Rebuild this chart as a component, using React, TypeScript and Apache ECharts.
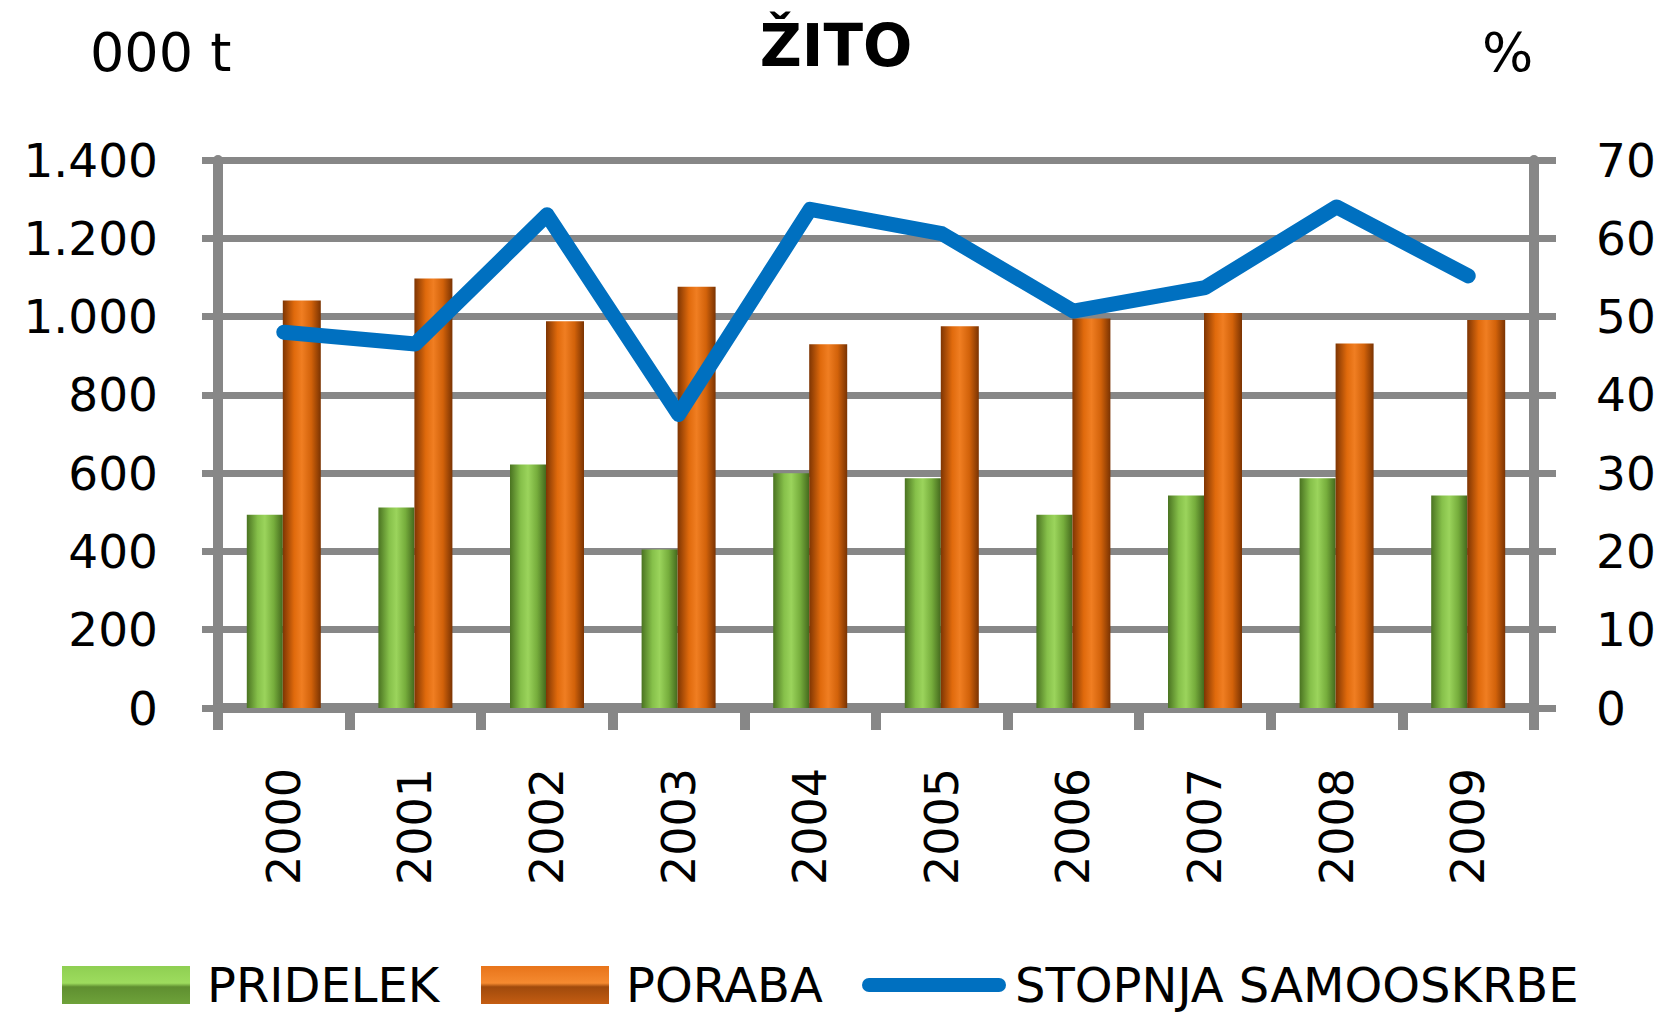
import React, { useEffect, useRef } from "react";
import * as echarts from "echarts";

const years = ["2000", "2001", "2002", "2003", "2004", "2005", "2006", "2007", "2008", "2009"];
const pridelek = [494, 512, 622, 405, 600, 587, 494, 543, 587, 543];
const poraba = [1041, 1097, 988, 1076, 929, 975, 995, 1009, 931, 991];
const samooskrba = [48.0, 46.5, 63.0, 37.5, 63.7, 60.6, 50.7, 53.7, 64.0, 55.2];

const FONT = "'DejaVu Sans', sans-serif";
const GRAY = "#878787";

function fmt(v: number): string {
  if (v >= 1000) {
    return Math.floor(v / 1000) + "." + String(v % 1000).padStart(3, "0");
  }
  return String(v);
}

const greenGrad = new echarts.graphic.LinearGradient(0, 0, 1, 0, [
  { offset: 0, color: "#4a7321" },
  { offset: 0.3, color: "#86c04a" },
  { offset: 0.5, color: "#9bd45c" },
  { offset: 0.75, color: "#76ad3c" },
  { offset: 1, color: "#44691d" },
]);
const orangeGrad = new echarts.graphic.LinearGradient(0, 0, 1, 0, [
  { offset: 0, color: "#7e3503" },
  { offset: 0.3, color: "#e06a0c" },
  { offset: 0.5, color: "#f07e22" },
  { offset: 0.75, color: "#d2620a" },
  { offset: 1, color: "#7a3302" },
]);
const greenLegend = new echarts.graphic.LinearGradient(0, 0, 0, 1, [
  { offset: 0, color: "#8fcf52" },
  { offset: 0.45, color: "#9ddc5e" },
  { offset: 0.55, color: "#5f8f30" },
  { offset: 1, color: "#6ea23a" },
]);
const orangeLegend = new echarts.graphic.LinearGradient(0, 0, 0, 1, [
  { offset: 0, color: "#e8741a" },
  { offset: 0.45, color: "#f58a30" },
  { offset: 0.55, color: "#a04a0c" },
  { offset: 1, color: "#c45d12" },
]);

const LINE_ICON = "path://M7,0 L137,0 A7,7 0 0 1 137,14 L7,14 A7,7 0 0 1 7,0 Z";

const legendText = { fontFamily: FONT, fontSize: 48, color: "#000", padding: [0, 0, 0, 12] };

export default function App() {
  const ref = useRef<HTMLDivElement>(null);
  useEffect(() => {
    if (!ref.current) return;
    const chart = echarts.init(ref.current, null, { renderer: "svg" });
    chart.setOption({
      animation: false,
      backgroundColor: "#ffffff",
      textStyle: { fontFamily: FONT },
      graphic: [
        {
          type: "text",
          x: 836,
          y: 46,
          style: {
            text: "ŽITO",
            fontFamily: FONT,
            fontSize: 58,
            fontWeight: "bold",
            fill: "#000",
            align: "center",
            verticalAlign: "middle",
          },
        },
        {
          type: "text",
          x: 90,
          y: 52,
          style: {
            text: "000 t",
            fontFamily: FONT,
            fontSize: 54,
            fill: "#000",
            align: "left",
            verticalAlign: "middle",
          },
        },
        {
          type: "text",
          x: 1482,
          y: 52,
          style: {
            text: "%",
            fontFamily: FONT,
            fontSize: 54,
            fill: "#000",
            align: "left",
            verticalAlign: "middle",
          },
        },
      ],
      grid: { left: 218, right: 145, top: 160, bottom: 310, containLabel: false },
      legend: [
        {
          left: 57,
          top: 956,
          itemWidth: 128,
          itemHeight: 38,
          textStyle: legendText,
          data: [{ name: "PRIDELEK", icon: "rect", itemStyle: { color: greenLegend } }],
        },
        {
          left: 476,
          top: 956,
          itemWidth: 128,
          itemHeight: 38,
          textStyle: legendText,
          data: [{ name: "PORABA", icon: "rect", itemStyle: { color: orangeLegend } }],
        },
        {
          left: 857,
          top: 956,
          itemWidth: 144,
          itemHeight: 38,
          symbolKeepAspect: true,
          textStyle: { ...legendText, padding: [0, 0, 0, 4] },
          data: [{ name: "STOPNJA SAMOOSKRBE", icon: LINE_ICON, itemStyle: { color: "#0070c0" } }],
        },
      ],
      xAxis: {
        type: "category",
        data: years,
        boundaryGap: true,
        axisLine: { show: true, lineStyle: { color: GRAY, width: 10 } },
        axisTick: { show: true, length: 22, lineStyle: { color: GRAY, width: 10 } },
        axisLabel: {
          rotate: 90,
          margin: 60,
          fontFamily: FONT,
          fontSize: 46,
          color: "#000",
        },
        splitLine: { show: false },
      },
      yAxis: [
        {
          type: "value",
          min: 0,
          max: 1400,
          interval: 200,
          position: "left",
          axisLine: { show: true, lineStyle: { color: GRAY, width: 10 } },
          axisTick: { show: true, length: 16, lineStyle: { color: GRAY, width: 7 } },
          axisLabel: {
            margin: 60,
            fontFamily: FONT,
            fontSize: 47,
            color: "#000",
            formatter: (v: number) => fmt(v),
          },
          splitLine: { show: true, lineStyle: { color: GRAY, width: 7 } },
        },
        {
          type: "value",
          min: 0,
          max: 70,
          interval: 10,
          position: "right",
          axisLine: { show: true, lineStyle: { color: GRAY, width: 10 } },
          axisTick: { show: true, length: 22, lineStyle: { color: GRAY, width: 7 } },
          axisLabel: {
            margin: 62,
            fontFamily: FONT,
            fontSize: 47,
            color: "#000",
          },
          splitLine: { show: false },
        },
      ],
      series: [
        {
          name: "PRIDELEK",
          type: "bar",
          data: pridelek,
          barWidth: 36,
          barGap: "0%",
          itemStyle: { color: greenGrad },
          z: 2,
        },
        {
          name: "PORABA",
          type: "bar",
          data: poraba,
          barWidth: 38,
          barGap: "0%",
          itemStyle: { color: orangeGrad },
          z: 2,
        },
        {
          name: "STOPNJA SAMOOSKRBE",
          type: "line",
          yAxisIndex: 1,
          data: samooskrba,
          symbol: "none",
          showSymbol: false,
          lineStyle: { color: "#0070c0", width: 15, cap: "round", join: "round" },
          itemStyle: { color: "#0070c0" },
          z: 5,
        },
      ],
    });
    return () => chart.dispose();
  }, []);
  return (
    <div
      ref={ref}
      style={{ position: "fixed", left: 0, top: 0, width: 1679, height: 1018, background: "#fff" }}
    />
  );
}
